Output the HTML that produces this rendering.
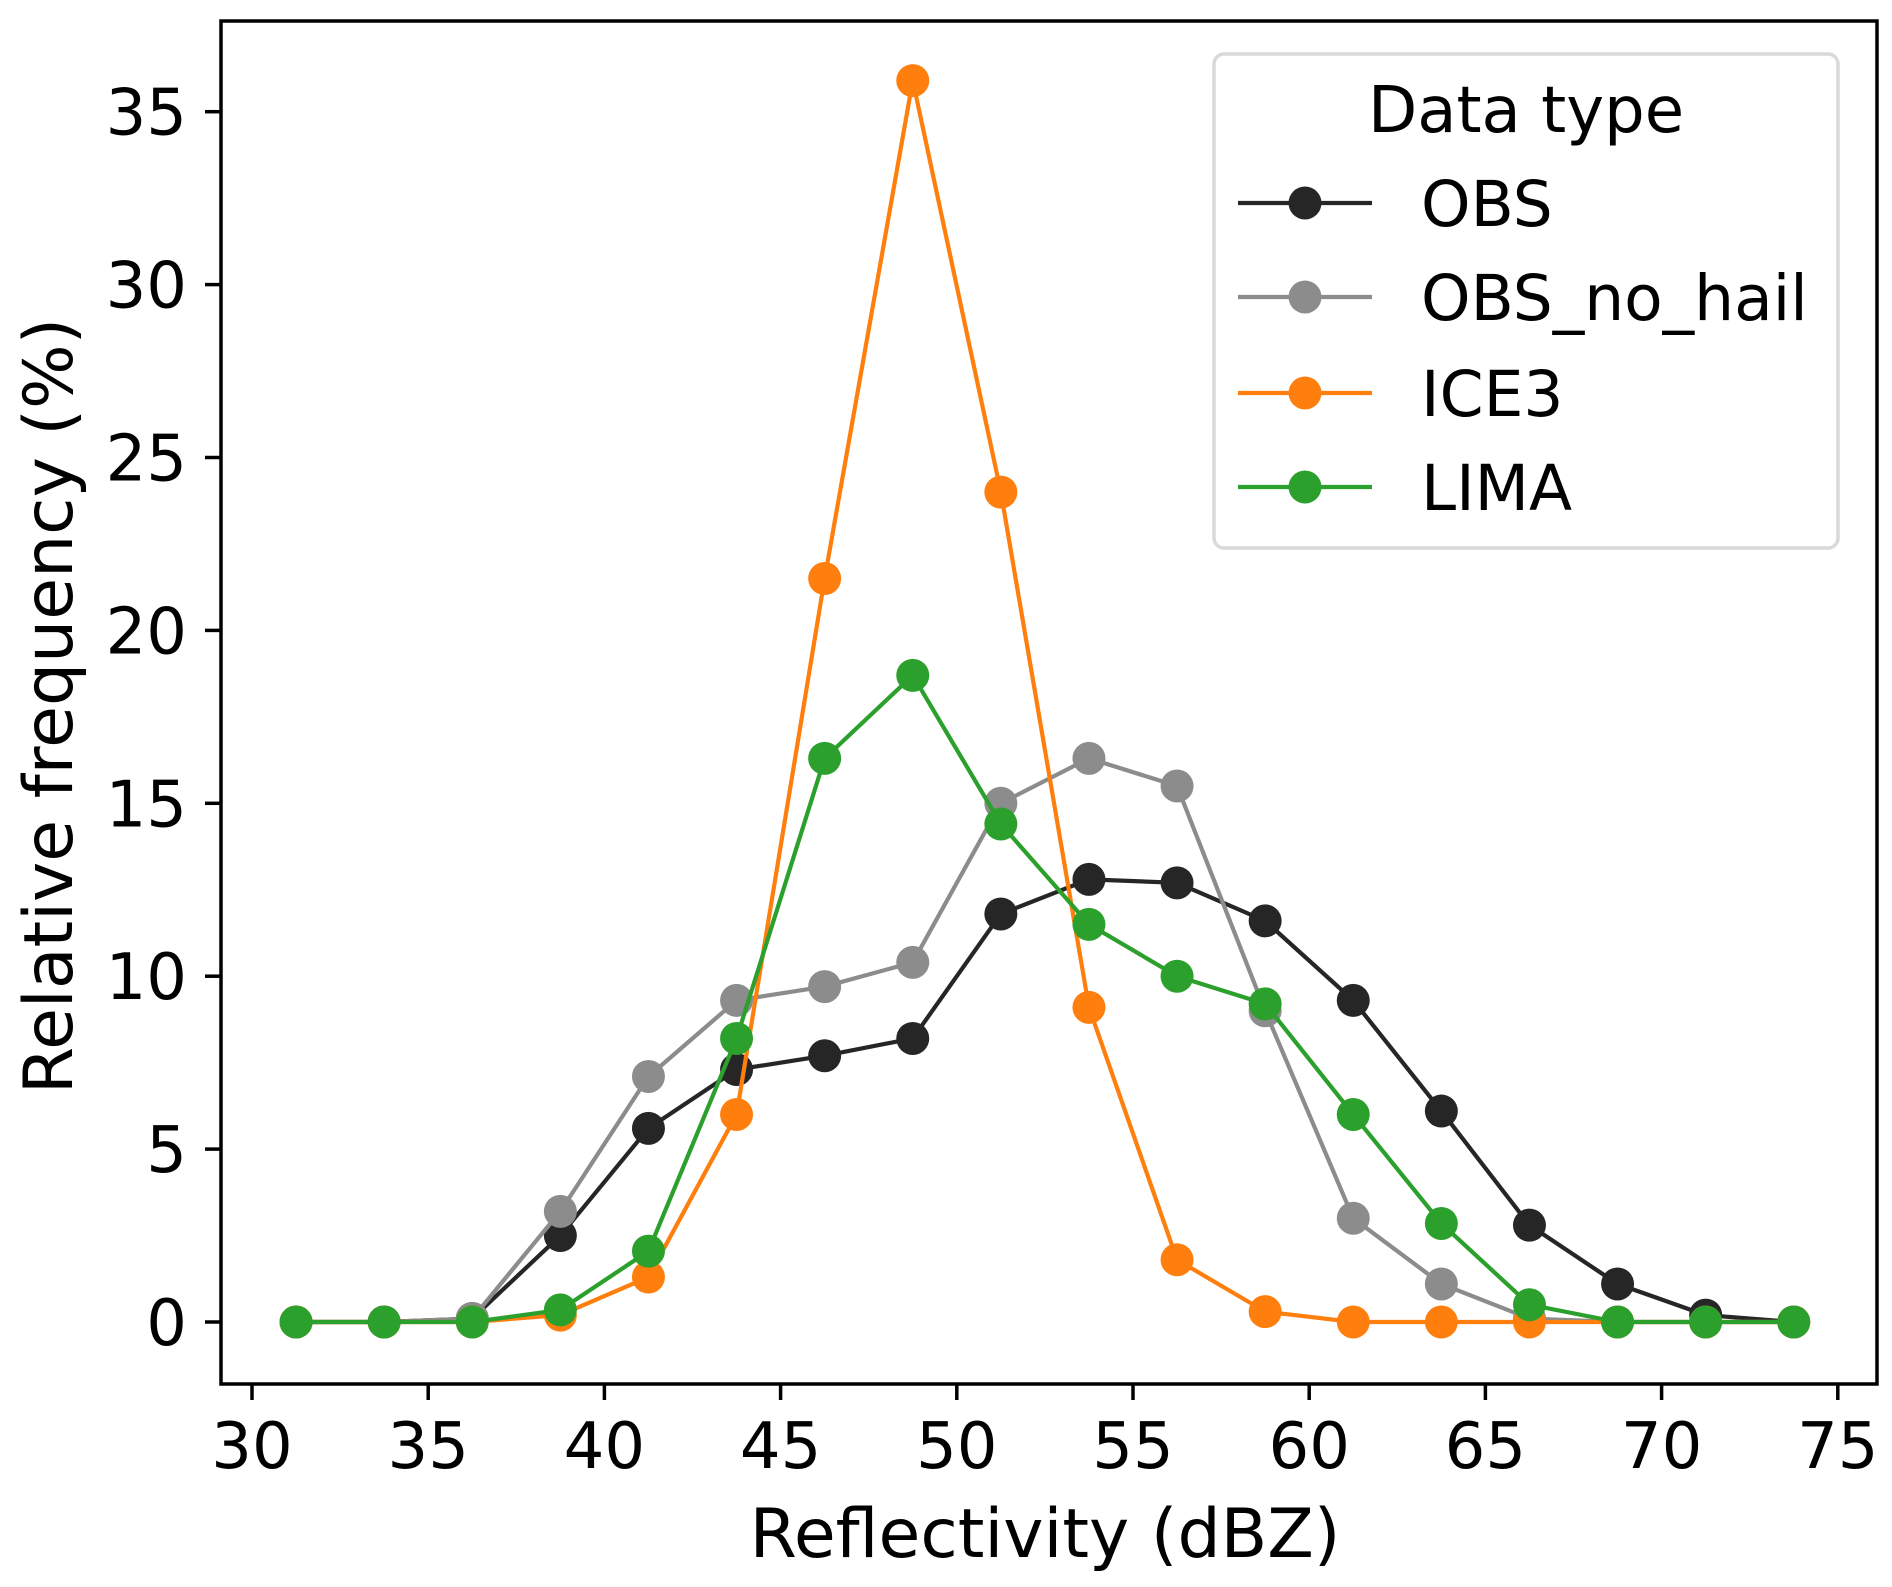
<!DOCTYPE html>
<html><head><meta charset="utf-8"><style>
html,body{margin:0;padding:0;background:#fff;}
svg{display:block;font-family:"DejaVu Sans","Liberation Sans",sans-serif;}
</style></head><body>
<svg id="chart" width="1892" height="1587" viewBox="0 0 1892 1587">
<rect width="1892" height="1587" fill="#fff"/>
<g id="series"></g>
<rect x="221" y="21" width="1656" height="1363" fill="none" stroke="#000" stroke-width="3.5"/>
<g id="xticks"></g><g id="yticks"></g>
<text x="1045" y="1557" font-size="68" text-anchor="middle">Reflectivity (dBZ)</text>
<text transform="translate(72,706) rotate(-90)" font-size="68" text-anchor="middle">Relative frequency (%)</text>
<g>
<rect x="1214" y="54" width="624" height="494" rx="10" fill="#fff" fill-opacity="0.8" stroke="#d9d9d9" stroke-width="3.5"/>
<text x="1526" y="132" font-size="64" text-anchor="middle">Data type</text>
<g id="legend-entries"></g>
</g>
</svg>
<script>
const categories = [31.25,33.75,36.25,38.75,41.25,43.75,46.25,48.75,51.25,53.75,56.25,58.75,61.25,63.75,66.25,68.75,71.25,73.75];
const obs =     [0,0,0.1,2.5,5.6,7.3,7.7,8.2,11.8,12.8,12.7,11.6,9.3,6.1,2.8,1.1,0.2,0];
const obsNoHail=[0,0,0.1,3.2,7.1,9.3,9.7,10.4,15.0,16.3,15.5,9.0,3.0,1.1,0.1,0,0,0];
const ice3 =    [0,0,0,0.2,1.3,6.0,21.5,35.9,24.0,9.1,1.8,0.3,0,0,0,0,0,0];
const lima =    [0,0,0,0.35,2.05,8.2,16.3,18.7,14.4,11.5,10.0,9.2,6.0,2.85,0.5,0,0,0];
const xTickLabels = [30,35,40,45,50,55,60,65,70,75];
const yTickLabels = [0,5,10,15,20,25,30,35];
const seriesNames = ["OBS","OBS_no_hail","ICE3","LIMA"];

const NS="http://www.w3.org/2000/svg";
function X(v){return 252 + (v-30)*176.2/5;}
function Y(v){return 1322 - v*172.9/5;}
function mk(tag,attrs,parent){const e=document.createElementNS(NS,tag);for(const k in attrs)e.setAttribute(k,attrs[k]);parent.appendChild(e);return e;}

const xt=document.getElementById('xticks');
xTickLabels.forEach(t=>{
  const l=mk('line',{x1:X(t),x2:X(t),y1:1384,y2:1400,stroke:'#000','stroke-width':3.5},xt);
  
  
  const tx=mk('text',{x:X(t),y:1468,'font-size':64,'text-anchor':'middle'},xt);
  tx.textContent=t;
  
  
});
const yt=document.getElementById('yticks');
yTickLabels.forEach(t=>{
  const l=mk('line',{x1:205,x2:221,y1:Y(t),y2:Y(t),stroke:'#000','stroke-width':3.5},yt);
  
  
  const tx=mk('text',{x:187,y:Y(t)+23,'font-size':64,'text-anchor':'end'},yt);
  tx.textContent=t;
  
  
});

const allSeries=[obs,obsNoHail,ice3,lima];
const colors=['#262626','#8c8c8c','#ff7f0e','#2ca02c'];
const sg=document.getElementById('series');
allSeries.forEach((vals,i)=>{
  const g=mk('g',{},sg);
  
  
  const pts=vals.map((v,j)=>X(categories[j])+','+Y(v)).join(' ');
  const pl=mk('polyline',{points:pts,fill:'none',stroke:colors[i],'stroke-width':4.2,'stroke-linejoin':'round'},g);
  
  
  vals.forEach((v,j)=>{
    const c=mk('circle',{cx:X(categories[j]),cy:Y(v),r:16.5,fill:colors[i]},g);
    
    
  });
});

const lg=document.getElementById('legend-entries');
const legY=[203,297,393,487];
seriesNames.forEach((n,i)=>{
  const g=mk('g',{},lg);
  
  
  mk('line',{x1:1238,x2:1372,y1:legY[i],y2:legY[i],stroke:colors[i],'stroke-width':4.2},g);
  mk('circle',{cx:1305,cy:legY[i],r:16.5,fill:colors[i]},g);
  const t=mk('text',{x:1421,y:legY[i]+23,'font-size':63},g);
  t.textContent=n;
});
</script>
</body></html>
